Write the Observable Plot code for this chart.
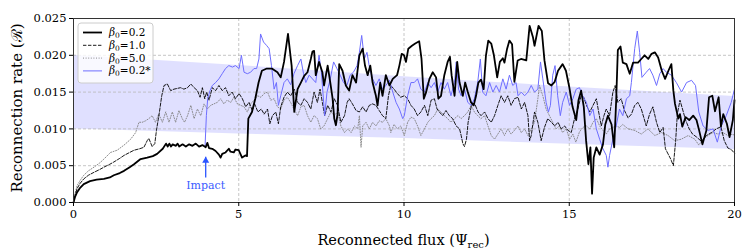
<!DOCTYPE html>
<html><head><meta charset="utf-8">
<script src="https://cdn.jsdelivr.net/npm/d3@7"></script>
<script src="https://cdn.jsdelivr.net/npm/@observablehq/plot@0.6"></script>
<style>html,body{margin:0;padding:0;background:#fff}svg{display:block}</style>
</head><body><div id="chart"></div>
<script>
// ---- data ----
const xTicks = [0, 5, 10, 15, 20];
const yTicks = [0, 0.005, 0.010, 0.015, 0.020, 0.025];

// shaded scaling band
const bandX  = [0, 5, 10, 15, 20];
const bandLo = [.0100, .0093, .0087, .0079, .0072];
const bandHi = [.0200, .0186, .0171, .0157, .0144];

// beta0 = 0.2 (thick black)
const beta02 = [[0,0],[.05,.0008],[.11,.0014],[.2,.002],[.31,.0025],[.5,.0029],[.7,.0031],[.92,.0032],[1.1,.0034],[1.22,.0037],[1.4,.004],[1.53,.0043],[1.7,.0048],[1.83,.0052],[2.03,.0059],[2.23,.0061],[2.4,.0063],[2.53,.0066],[2.7,.0073],[2.8,.008],[2.85,.0076],[2.9,.008],[2.95,.0076],[3,.0079],[3.1,.0077],[3.15,.008],[3.2,.0076],[3.3,.0079],[3.4,.0076],[3.5,.0079],[3.6,.0077],[3.7,.008],[3.8,.0076],[3.9,.0078],[4,.0075],[4.05,.0081],[4.1,.0074],[4.2,.0073],[4.3,.007],[4.4,.0065],[4.45,.0061],[4.5,.0066],[4.6,.0068],[4.7,.0073],[4.75,.0069],[4.85,.0068],[4.9,.0072],[5,.0071],[5.05,.0066],[5.1,.0061],[5.2,.0064],[5.25,.0063],[5.29,.0114],[5.4,.0123],[5.5,.0141],[5.6,.0163],[5.7,.0179],[5.85,.0182],[6,.0182],[6.17,.0177],[6.27,.017],[6.37,.0191],[6.49,.0229],[6.6,.0186],[6.68,.0123],[6.78,.0154],[6.88,.0163],[6.98,.0172],[7.08,.0177],[7.18,.0195],[7.23,.0205],[7.28,.0206],[7.33,.0173],[7.43,.0191],[7.53,.0177],[7.58,.0159],[7.69,.0186],[7.77,.0163],[7.84,.0141],[7.89,.0114],[7.94,.0105],[7.99,.012],[8.04,.0188],[8.14,.0179],[8.24,.0159],[8.34,.0152],[8.44,.0173],[8.55,.0163],[8.65,.02],[8.75,.0209],[8.82,.0186],[8.9,.0173],[8.98,.0186],[9.05,.0163],[9.15,.0145],[9.2,.0132],[9.28,.0163],[9.35,.0145],[9.45,.0173],[9.56,.0159],[9.66,.0168],[9.79,.0173],[9.86,.0186],[9.93,.0202],[10,.02],[10.06,.0191],[10.13,.0209],[10.24,.0213],[10.34,.0216],[10.46,.0219],[10.53,.0195],[10.6,.0141],[10.67,.015],[10.77,.0168],[10.87,.0177],[10.97,.017],[11.04,.0141],[11.12,.0145],[11.22,.0173],[11.32,.0191],[11.39,.0198],[11.44,.0173],[11.53,.0145],[11.61,.0191],[11.68,.0163],[11.78,.0145],[11.85,.0163],[11.93,.015],[12.03,.0136],[12.11,.0132],[12.18,.0145],[12.25,.0163],[12.33,.0167],[12.41,.0154],[12.48,.02],[12.55,.022],[12.64,.0216],[12.72,.02],[12.82,.017],[12.9,.0191],[12.99,.0196],[13.04,.019],[13.12,.0209],[13.19,.022],[13.27,.0215],[13.34,.0164],[13.44,.0193],[13.54,.0195],[13.7,.0193],[13.8,.024],[13.9,.0225],[13.95,.0213],[14.07,.024],[14.17,.0233],[14.25,.0193],[14.36,.0162],[14.46,.0159],[14.56,.0164],[14.66,.0179],[14.8,.0188],[14.9,.0179],[15,.0157],[15.1,.013],[15.21,.0112],[15.28,.0139],[15.36,.0152],[15.44,.013],[15.51,.0084],[15.58,.0052],[15.64,.0075],[15.69,.0012],[15.74,.0061],[15.82,.0075],[15.92,.0065],[16.02,.0079],[16.09,.0106],[16.17,.0118],[16.28,.0106],[16.36,.0075],[16.42,.0139],[16.47,.0207],[16.55,.0212],[16.62,.019],[16.73,.0188],[16.83,.0175],[16.93,.019],[17.08,.019],[17.18,.0195],[17.28,.02],[17.39,.0195],[17.49,.0202],[17.59,.0204],[17.69,.0197],[17.8,.0179],[17.9,.0168],[18,.0179],[18.09,.0188],[18.15,.0152],[18.2,.0134],[18.3,.0114],[18.35,.012],[18.42,.0103],[18.52,.0116],[18.63,.0112],[18.75,.0118],[18.85,.0112],[18.93,.0098],[19.03,.0079],[19.15,.0098],[19.23,.0143],[19.33,.0145],[19.41,.0124],[19.52,.0143],[19.59,.0103],[19.66,.012],[19.77,.0107],[19.85,.0089],[19.95,.0112],[20,.0139]];

// beta0 = 1.0 (dashed)
const beta10 = [[0,0],[.05,.001],[.11,.0019],[.2,.0026],[.31,.0032],[.45,.0037],[.62,.0041],[.8,.0045],[.92,.0048],[1.1,.0052],[1.22,.0055],[1.4,.006],[1.53,.0064],[1.7,.0068],[1.83,.0071],[2,.0073],[2.13,.0075],[2.23,.0084],[2.28,.0087],[2.38,.0076],[2.46,.008],[2.51,.0098],[2.6,.0123],[2.67,.0145],[2.74,.0159],[2.84,.0161],[2.94,.0152],[3.04,.0154],[3.14,.0155],[3.24,.0156],[3.34,.0154],[3.45,.0156],[3.55,.0161],[3.65,.0156],[3.75,.0152],[3.83,.0143],[3.9,.0156],[3.97,.0141],[4.03,.015],[4.1,.0139],[4.2,.0156],[4.3,.0152],[4.4,.0159],[4.5,.0152],[4.6,.0156],[4.7,.0145],[4.8,.015],[4.9,.0141],[5.01,.0148],[5.11,.0141],[5.21,.013],[5.31,.0136],[5.41,.0125],[5.48,.0134],[5.58,.0123],[5.68,.0127],[5.77,.012],[5.87,.0127],[5.94,.0107],[6.02,.0118],[6.12,.0123],[6.2,.0107],[6.27,.013],[6.37,.0143],[6.47,.015],[6.57,.0145],[6.68,.0154],[6.78,.0136],[6.88,.0132],[6.98,.0141],[7.08,.0136],[7.18,.0127],[7.28,.015],[7.38,.0136],[7.46,.0154],[7.53,.0136],[7.6,.0118],[7.69,.0132],[7.79,.0123],[7.89,.0141],[7.99,.0132],[8.09,.0109],[8.2,.0118],[8.28,.0136],[8.34,.0141],[8.44,.0134],[8.55,.0125],[8.65,.0123],[8.75,.013],[8.85,.0123],[8.95,.0132],[9.05,.0134],[9.15,.0132],[9.25,.0125],[9.35,.0118],[9.45,.0114],[9.53,.0145],[9.6,.0159],[9.7,.0154],[9.8,.0148],[9.9,.0143],[10.01,.0145],[10.11,.0141],[10.21,.0132],[10.31,.0127],[10.41,.0118],[10.51,.0123],[10.62,.0132],[10.72,.0118],[10.82,.0139],[10.92,.0141],[11,.0127],[11.07,.0123],[11.17,.0118],[11.27,.0125],[11.37,.0118],[11.47,.0114],[11.58,.0104],[11.68,.01],[11.73,.0091],[11.78,.008],[11.83,.0076],[11.89,.0086],[11.94,.0109],[12.04,.0132],[12.14,.0134],[12.24,.0123],[12.33,.0118],[12.44,.0123],[12.54,.0114],[12.64,.0109],[12.74,.0118],[12.84,.0132],[12.94,.0145],[13.04,.0136],[13.14,.0145],[13.24,.0132],[13.34,.0141],[13.45,.0143],[13.55,.0127],[13.65,.0136],[13.75,.0118],[13.8,.0084],[13.85,.0091],[13.95,.0123],[14.05,.0109],[14.15,.0084],[14.25,.0102],[14.35,.0114],[14.46,.0109],[14.56,.0104],[14.66,.0109],[14.76,.01],[14.86,.0104],[14.96,.0098],[15.06,.0095],[15.16,.0114],[15.26,.0127],[15.36,.0145],[15.44,.0143],[15.52,.0132],[15.62,.0123],[15.72,.0132],[15.82,.0141],[15.89,.0123],[15.97,.0104],[16.05,.0118],[16.12,.0127],[16.22,.0118],[16.32,.015],[16.39,.0159],[16.47,.0136],[16.57,.0141],[16.67,.0125],[16.78,.0115],[16.88,.012],[16.98,.0132],[17.08,.0136],[17.18,.0127],[17.33,.0104],[17.43,.012],[17.53,.013],[17.64,.0109],[17.74,.0095],[17.84,.0102],[17.91,.0073],[17.99,.0066],[18.07,.0059],[18.15,.005],[18.22,.0084],[18.27,.012],[18.35,.0139],[18.42,.0128],[18.52,.0112],[18.63,.01],[18.73,.0093],[18.85,.0089],[19,.0083],[19.15,.0091],[19.3,.0095],[19.45,.01],[19.59,.0103],[19.69,.0084],[19.8,.0074],[19.9,.0072],[20,.0067]];

// beta0 = 5.0 (dotted grey)
const beta50 = [[0,0],[.05,.0013],[.11,.0023],[.2,.003],[.31,.0037],[.45,.0043],[.62,.0048],[.8,.0054],[.92,.0059],[1.12,.0068],[1.32,.0071],[1.53,.0078],[1.73,.0086],[1.88,.0095],[1.98,.0109],[2.08,.0109],[2.18,.0111],[2.28,.0114],[2.38,.0118],[2.48,.0109],[2.58,.012],[2.69,.0109],[2.79,.0123],[2.89,.0109],[2.99,.0123],[3.09,.0109],[3.19,.0125],[3.29,.0114],[3.36,.0109],[3.45,.0118],[3.55,.0132],[3.65,.0114],[3.75,.0127],[3.85,.0118],[3.95,.0134],[4.05,.0127],[4.15,.0132],[4.25,.0134],[4.35,.0136],[4.45,.0141],[4.55,.0134],[4.65,.0139],[4.76,.0136],[4.85,.0143],[4.96,.0134],[5.06,.0132],[5.16,.013],[5.26,.0123],[5.36,.0134],[5.46,.0139],[5.57,.0145],[5.67,.0143],[5.77,.0148],[5.87,.015],[5.97,.0139],[6.07,.0141],[6.17,.013],[6.27,.0127],[6.37,.0139],[6.47,.0143],[6.57,.0136],[6.67,.0127],[6.78,.0118],[6.88,.013],[6.98,.0132],[7.08,.0118],[7.18,.0109],[7.28,.0118],[7.38,.0114],[7.48,.01],[7.58,.0104],[7.69,.0114],[7.79,.0123],[7.89,.0118],[7.99,.0123],[8.09,.0104],[8.2,.0095],[8.3,.01],[8.4,.0095],[8.5,.0104],[8.6,.01],[8.65,.0118],[8.7,.0075],[8.75,.0104],[8.85,.0109],[8.95,.01],[9.05,.0109],[9.15,.0104],[9.25,.0111],[9.35,.0109],[9.45,.0114],[9.56,.0104],[9.6,.0095],[9.7,.0106],[9.8,.01],[9.9,.0104],[10.01,.0091],[10.11,.0109],[10.21,.0116],[10.31,.0114],[10.41,.0104],[10.51,.0091],[10.62,.01],[10.72,.0109],[10.82,.0114],[10.92,.0118],[11.02,.0127],[11.12,.0123],[11.22,.0118],[11.32,.0114],[11.42,.0109],[11.53,.0114],[11.63,.0118],[11.73,.0114],[11.83,.0118],[11.93,.0123],[12.03,.0132],[12.13,.0123],[12.23,.0118],[12.33,.0114],[12.44,.0118],[12.54,.0104],[12.64,.0091],[12.74,.0086],[12.84,.0093],[12.94,.01],[13.04,.0091],[13.14,.01],[13.24,.0093],[13.34,.0098],[13.45,.0104],[13.55,.0095],[13.65,.01],[13.75,.0091],[13.85,.01],[13.95,.0109],[14.05,.0141],[14.1,.0159],[14.2,.0145],[14.3,.0127],[14.4,.0118],[14.5,.0109],[14.6,.01],[14.7,.0104],[14.8,.0095],[14.91,.01],[15.01,.0086],[15.11,.0093],[15.2,.0082],[15.31,.0096],[15.41,.0102],[15.52,.0104],[15.62,.01],[15.72,.0109],[15.82,.0114],[15.92,.0104],[16.02,.0098],[16.12,.0093],[16.22,.01],[16.32,.0102],[16.42,.0104],[16.52,.0102],[16.62,.0106],[16.78,.01],[16.98,.0098],[17.18,.0093],[17.38,.01],[17.59,.0091],[17.79,.0095],[17.99,.0091],[18.19,.0084],[18.39,.0086],[18.6,.0091],[18.8,.0086],[18.92,.0078],[19.05,.0086],[19.2,.0091],[19.35,.0095],[19.5,.0093],[19.65,.0095],[19.8,.0091],[19.95,.0093],[20,.009]];

// beta0 = 0.2* (blue, after impact)
const beta02s = [[3.98,.0076],[4.02,.0118],[4.06,.0141],[4.13,.0152],[4.2,.0159],[4.3,.0163],[4.4,.0168],[4.5,.0175],[4.6,.0182],[4.7,.0186],[4.81,.0184],[4.9,.0186],[5.01,.0182],[5.08,.02],[5.16,.0177],[5.26,.0175],[5.36,.0177],[5.46,.0182],[5.54,.0182],[5.61,.0195],[5.66,.0229],[5.75,.0218],[5.85,.0213],[5.92,.0209],[5.99,.0186],[6.07,.0154],[6.14,.0163],[6.2,.0132],[6.27,.0145],[6.37,.0163],[6.47,.0168],[6.57,.016],[6.67,.0175],[6.78,.0186],[6.88,.0195],[6.96,.0175],[7.03,.0163],[7.13,.0173],[7.23,.0168],[7.33,.0163],[7.43,.02],[7.5,.0177],[7.6,.0118],[7.67,.015],[7.77,.0168],[7.87,.0191],[7.97,.0182],[8.07,.0173],[8.17,.0163],[8.27,.0159],[8.37,.0173],[8.47,.0177],[8.58,.0186],[8.65,.0204],[8.72,.0227],[8.8,.0195],[8.88,.0204],[8.96,.0182],[9.05,.0168],[9.15,.0159],[9.25,.0168],[9.35,.0154],[9.45,.0159],[9.56,.0166],[9.66,.015],[9.76,.0136],[9.86,.0127],[9.96,.0114],[10.01,.0118],[10.11,.0145],[10.21,.0163],[10.31,.0163],[10.41,.0168],[10.51,.0154],[10.62,.015],[10.72,.0163],[10.82,.0156],[10.92,.0163],[11.02,.015],[11.12,.0163],[11.22,.0154],[11.32,.0163],[11.42,.0145],[11.53,.0163],[11.58,.0191],[11.65,.0154],[11.73,.0145],[11.83,.0154],[11.93,.0136],[12.03,.0132],[12.13,.0141],[12.23,.0163],[12.31,.0195],[12.38,.015],[12.48,.0145],[12.59,.0163],[12.69,.015],[12.79,.0159],[12.89,.015],[12.99,.0168],[13.09,.0154],[13.19,.0173],[13.29,.0159],[13.39,.0163],[13.45,.0145],[13.55,.015],[13.65,.0145],[13.75,.015],[13.85,.0159],[13.95,.015],[14.05,.0154],[14.13,.0191],[14.2,.0168],[14.3,.0136],[14.37,.0123],[14.43,.0132],[14.5,.0173],[14.57,.0186],[14.65,.0145],[14.73,.0118],[14.8,.0136],[14.91,.015],[15.01,.0132],[15.11,.0141],[15.21,.0154],[15.31,.0156],[15.4,.0145],[15.52,.0136],[15.62,.0118],[15.72,.0127],[15.82,.01],[15.92,.0086],[16.02,.0073],[16.12,.0064],[16.17,.0048],[16.22,.0064],[16.32,.0086],[16.42,.0104],[16.52,.0127],[16.62,.0118],[16.73,.0141],[16.83,.0145],[16.88,.0163],[16.98,.0209],[17.06,.0233],[17.13,.0204],[17.2,.017],[17.33,.0177],[17.43,.0182],[17.53,.0173],[17.64,.0159],[17.74,.0175],[17.84,.0182],[17.94,.0177],[18.09,.0173],[18.24,.0163],[18.4,.015],[18.55,.0163],[18.7,.0166],[18.82,.0159],[18.92,.0123],[19.05,.0104],[19.2,.0098],[19.35,.01],[19.48,.0082],[19.6,.0104],[19.75,.0118],[19.9,.0136],[20,.0154]];

// legend entries and annotation
const seriesNames = ["0.2", "1.0", "5.0", "0.2*"];
const impactX = [4];
const impactArrowFrom = [0.0034];
const impactArrowTo = [0.0062];
const impactLabelY = [0.0023];
const impactLabel = ["Impact"];

// ---- build ----
const FONT = "'DejaVu Serif', serif";
const rows = arr => arr.map(([x, y]) => ({x, y}));
const band = bandX.map((x, i) => ({x, lo: bandLo[i], hi: bandHi[i]}));
const impact = impactX.map((x, i) => ({x, y1: impactArrowFrom[i], y2: impactArrowTo[i], ly: impactLabelY[i], t: impactLabel[i]}));
const ARROW = "#2b55ff";

const styles = [
  {stroke: "#000", strokeWidth: 1.8},
  {stroke: "#000", strokeWidth: 0.9, strokeDasharray: "3.4,1.6"},
  {stroke: "#808080", strokeWidth: 0.9, strokeDasharray: "1,1.6"},
  {stroke: "#6e6eff", strokeWidth: 1}
];

const chart = Plot.plot({
  width: 756, height: 252,
  marginLeft: 73, marginRight: 22, marginTop: 18, marginBottom: 50,
  style: {fontFamily: FONT, fontSize: "11.5px", color: "#000", background: "#fff", overflow: "visible"},
  x: {domain: [0, 20]},
  y: {domain: [0, 0.025]},
  marks: [
    Plot.areaY(band, {x: "x", y1: "lo", y2: "hi", fill: "#0000ff", fillOpacity: 0.12, curve: "linear"}),
    Plot.gridX(xTicks, {stroke: "#b8b8b8", strokeOpacity: 1, strokeWidth: 0.8, strokeDasharray: "3,2"}),
    Plot.gridY(yTicks, {stroke: "#b8b8b8", strokeOpacity: 1, strokeWidth: 0.8, strokeDasharray: "3,2"}),
    Plot.line(rows(beta50), {x: "x", y: "y", ...styles[2]}),
    Plot.line(rows(beta10), {x: "x", y: "y", ...styles[1]}),
    Plot.line(rows(beta02s), {x: "x", y: "y", ...styles[3]}),
    Plot.line(rows(beta02), {x: "x", y: "y", ...styles[0]}),
    Plot.link(impact, {x1: "x", y1: "y1", x2: "x", y2: "y2", stroke: ARROW, strokeWidth: 1.3, dy: 0}),
    Plot.dot(impact, {x: "x", y: "y2", symbol: "triangle", r: 2.6, fill: ARROW, stroke: "none", dy: 3.8}),
    Plot.text(impact, {x: "x", y: "ly", text: "t", fill: "#3a5cff", fontSize: 11, fontFamily: FONT}),
    Plot.frame({stroke: "#333", strokeWidth: 1}),
    Plot.axisX(xTicks, {tickSize: 4, tickPadding: 3, fontSize: 11.5, label: null, tickFormat: d => String(d)}),
    Plot.axisY(yTicks, {tickSize: 4, tickPadding: 3, fontSize: 11.5, label: null, tickFormat: d => d.toFixed(3)})
  ]
});
document.getElementById("chart").appendChild(chart);

// ---- axis titles and legend (non-data decoration) ----
const svg = d3.select(chart);
const xt = svg.append("text")
  .attr("x", 403.5).attr("y", 245).attr("text-anchor", "middle")
  .attr("font-family", FONT).attr("font-size", 14.5).attr("fill", "#000");
xt.append("tspan").text("Reconnected flux (\u03A8");
xt.append("tspan").attr("font-size", 10).attr("dy", 3).text("rec");
xt.append("tspan").attr("dy", -3).text(")");

svg.append("text")
  .attr("transform", "translate(22,108) rotate(-90)")
  .attr("text-anchor", "middle")
  .attr("font-family", FONT).attr("font-size", 15).attr("fill", "#000")
  .text("Reconnection rate (\u211B)");

const lg = svg.append("g").attr("text-anchor", "start");
lg.append("rect").attr("x", 78).attr("y", 23).attr("width", 75).attr("height", 60)
  .attr("rx", 3).attr("fill", "#fff").attr("fill-opacity", 0.8)
  .attr("stroke", "#cccccc").attr("stroke-width", 1);
seriesNames.forEach((name, i) => {
  const y = 32.5 + i * 12.8;
  const s = styles[i];
  lg.append("line").attr("x1", 83).attr("x2", 102).attr("y1", y).attr("y2", y)
    .attr("stroke", s.stroke).attr("stroke-width", s.strokeWidth)
    .attr("stroke-dasharray", s.strokeDasharray || null);
  const t = lg.append("text").attr("x", 109).attr("y", y + 3.5).attr("text-anchor", "start")
    .attr("font-family", FONT).attr("font-size", 10.5).attr("fill", "#000");
  t.append("tspan").attr("font-style", "italic").text("\u03B2");
  t.append("tspan").attr("font-size", 7.5).attr("dy", 2).text("0");
  t.append("tspan").attr("dy", -2).text("=" + name);
});
</script>
</body></html>
